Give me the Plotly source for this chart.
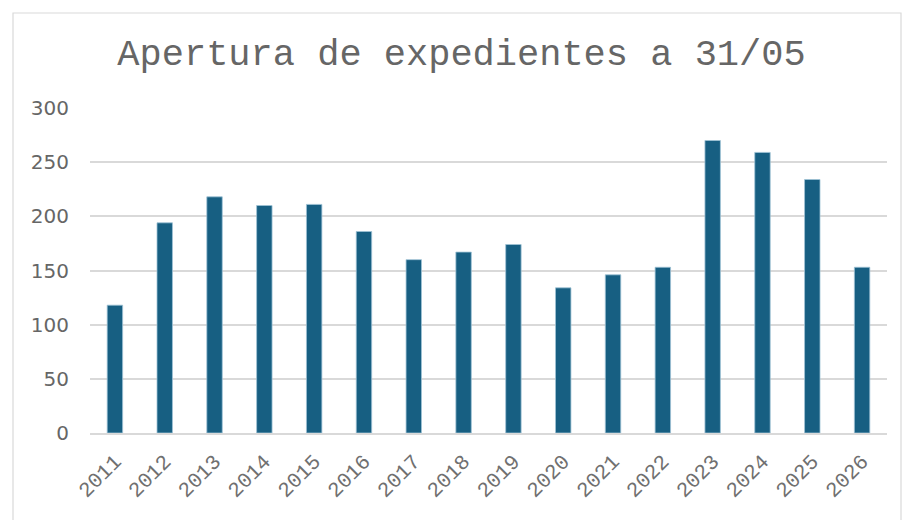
import plotly.graph_objects as go

years = ["2011", "2012", "2013", "2014", "2015", "2016", "2017", "2018",
         "2019", "2020", "2021", "2022", "2023", "2024", "2025", "2026"]
values = [118, 194, 218, 210, 211, 186, 160, 167, 174, 134, 146, 153, 270, 259, 234, 153]
y_ticks = [0, 50, 100, 150, 200, 250, 300]
title_text = "Apertura de expedientes a 31/05"

W, H = 909, 520
L, R, T, B = 90, 22, 108, 87

fig = go.Figure(go.Bar(
    x=years, y=values,
    marker=dict(color="#175f82", line=dict(color="#9fc3d6", width=0.8)),
    width=0.31,
))

fig.update_layout(
    width=W, height=H,
    margin=dict(l=L, r=R, t=T, b=B),
    paper_bgcolor="white", plot_bgcolor="white",
    showlegend=False,
    title=dict(text=title_text, x=461.5 / W, xref="container", xanchor="center",
               y=1 - 52 / H, yref="container", yanchor="middle",
               font=dict(family="Liberation Mono", size=37, color="#666666")),
    xaxis=dict(type="category", tickangle=-45, showgrid=False,
               showline=True, linecolor="#d9d9d9", linewidth=1.5,
               ticks="", ticklabelstandoff=6,
               tickfont=dict(family="Liberation Mono", size=21, color="#707070")),
    yaxis=dict(range=[0, 300], tickvals=y_ticks, showgrid=True, gridcolor="#d9d9d9",
               gridwidth=1.5, zeroline=False, showline=False, ticks="",
               ticklabelstandoff=20,
               tickfont=dict(family="DejaVu Sans", size=20, color="#666666")),
    shapes=[dict(type="rect", xref="paper", yref="paper",
                 x0=(13 - L) / (W - L - R), x1=(901 - L) / (W - L - R),
                 y0=(H - B - 540) / (H - T - B), y1=(H - B - 13) / (H - T - B),
                 line=dict(color="#d9d9d9", width=1.2), fillcolor="rgba(0,0,0,0)",
                 layer="below")],
)

fig.write_html("out.html", config={"displayModeBar": False},
               post_script="document.body.style.margin='0';")
